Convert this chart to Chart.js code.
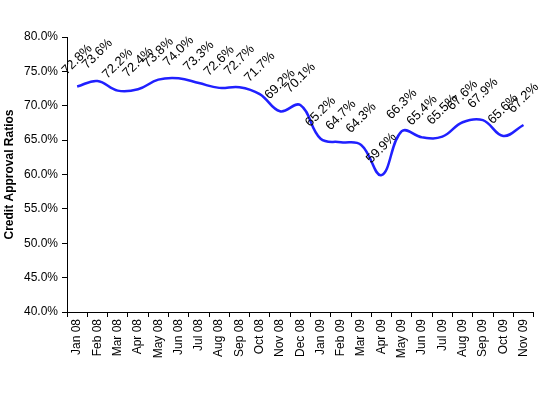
<!DOCTYPE html>
<html>
<head>
<meta charset="utf-8">
<script src="https://cdn.jsdelivr.net/npm/chart.js@4"></script>
<style>
  html, body { margin: 0; padding: 0; background: #fff; }
  #wrap { width: 540px; height: 395px; }
</style>
</head>
<body>
<div id="wrap"><canvas id="approvalChart" width="540" height="395"></canvas></div>
<script>
// Months shown on the category axis
const months = ['Jan 08', 'Feb 08', 'Mar 08', 'Apr 08', 'May 08', 'Jun 08', 'Jul 08', 'Aug 08',
    'Sep 08', 'Oct 08', 'Nov 08', 'Dec 08', 'Jan 09', 'Feb 09', 'Mar 09', 'Apr 09', 'May 09',
    'Jun 09', 'Jul 09', 'Aug 09', 'Sep 09', 'Oct 09', 'Nov 09'];

// Credit approval ratio (%) per month
const approvalRatios = [72.8, 73.6, 72.2, 72.4, 73.8, 74.0, 73.3, 72.6, 72.7, 71.7, 69.2, 70.1,
    65.2, 64.7, 64.3, 59.9, 66.3, 65.4, 65.5, 67.6, 67.9, 65.6, 67.2];

// Labels printed next to each point
const pointLabels = approvalRatios.map(v => v.toFixed(1) + '%');

const yMin = 40, yMax = 80, yStep = 5;
const font = 'Arial, "Liberation Sans", sans-serif';

// Draws the rotated value labels above each point
const valueLabels = {
    id: 'valueLabels',
    afterDatasetsDraw(chart) {
        const ctx = chart.ctx;
        const meta = chart.getDatasetMeta(0);
        ctx.save();
        ctx.font = '13px ' + font;
        ctx.fillStyle = '#000';
        ctx.textAlign = 'center';
        ctx.textBaseline = 'middle';
        meta.data.forEach((pt, i) => {
            ctx.save();
            ctx.translate(pt.x, pt.y - 27);
            ctx.rotate(-Math.PI / 4);
            ctx.fillText(pointLabels[i], 0, 0);
            ctx.restore();
        });
        ctx.restore();
    }
};

const ctx = document.getElementById('approvalChart').getContext('2d');
const approvalChart = new Chart(ctx, {
    type: 'line',
    data: {
        labels: months,
        datasets: [{
            data: approvalRatios,
            borderColor: '#2020ff',
            borderWidth: 2.5,
            pointRadius: 0,
            tension: 0.4,
            fill: false
        }]
    },
    options: {
        responsive: false,
        animation: false,
        layout: {
            padding: { top: 37, right: 5, left: 2, bottom: 0 }
        },
        plugins: {
            legend: { display: false },
            tooltip: { enabled: false }
        },
        scales: {
            x: {
                offset: true,
                grid: {
                    offset: true,
                    drawOnChartArea: false,
                    drawTicks: true,
                    tickLength: 5,
                    color: '#000'
                },
                border: { color: '#000', width: 1 },
                ticks: {
                    color: '#000',
                    font: { family: font, size: 12 },
                    maxRotation: 90,
                    minRotation: 90,
                    autoSkip: false,
                    padding: 2
                },
                afterFit(scale) { scale.height = 83; }
            },
            y: {
                min: yMin,
                max: yMax,
                grid: {
                    drawOnChartArea: false,
                    drawTicks: true,
                    tickLength: 5,
                    color: '#000'
                },
                border: { color: '#000', width: 1 },
                ticks: {
                    stepSize: yStep,
                    color: '#000',
                    font: { family: font, size: 12 },
                    padding: 4,
                    callback: v => v.toFixed(1) + '%'
                },
                title: {
                    display: true,
                    text: 'Credit Approval Ratios',
                    color: '#000',
                    font: { family: font, size: 12, weight: 'bold' },
                    padding: { top: 0, bottom: 0 }
                },
                afterFit(scale) { scale.width = 65; }
            }
        }
    },
    plugins: [valueLabels]
});
</script>
</body>
</html>
